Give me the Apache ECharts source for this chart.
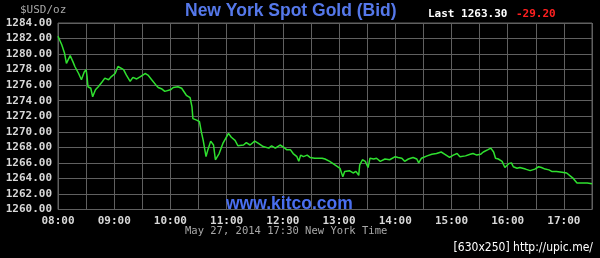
<!DOCTYPE html>
<html>
<head>
<meta charset="utf-8">
<script src="https://cdn.jsdelivr.net/npm/echarts@6/dist/echarts.min.js"></script>
<style>
html,body{margin:0;padding:0;background:#000;}
#chart{width:600px;height:258px;}
</style>
</head>
<body>
<div id="chart"></div>
<script>
// Times (HH:MM, New York) and bid prices
const times = ["08:00","08:04","08:07","08:09","08:13","08:16","08:18","08:22","08:25","08:28","08:30","08:31","08:32","08:35","08:37","08:40","08:43","08:47","08:50","08:54","08:57",
"09:01","09:04","09:06","09:10","09:13","09:17","09:20","09:24","09:28","09:33","09:36","09:40","09:44","09:47","09:51","09:54",
"10:00","10:03","10:08","10:12","10:17","10:21","10:23","10:24","10:28","10:31","10:33","10:35","10:38","10:40","10:43","10:46","10:48","10:52","10:56",
"11:02","11:05","11:09","11:12","11:18","11:21","11:25","11:30","11:34","11:39","11:45","11:48","11:52","11:57",
"12:01","12:04","12:08","12:11","12:15","12:17","12:19","12:22","12:26","12:29","12:34","12:42","12:45","12:50","12:56",
"13:01","13:04","13:06","13:11","13:15","13:18","13:21","13:22","13:25","13:28","13:31","13:33","13:37","13:40","13:44","13:49","13:54",
"14:00","14:03","14:07","14:10","14:14","14:19","14:23","14:25","14:28","14:34","14:39","14:44","14:49","14:53","14:58",
"15:02","15:06","15:09","15:15","15:20","15:23","15:27","15:31","15:34","15:39","15:42","15:45","15:47","15:50","15:54","15:57",
"16:01","16:04","16:06","16:10","16:13","16:19","16:24","16:29","16:33","16:36","16:40","16:44","16:47","16:52","16:58",
"17:03","17:07","17:10","17:14","17:19","17:25","17:30"];
const prices = [1282.3,1281.2,1280.1,1278.8,1279.8,1279.0,1278.4,1277.5,1276.7,1277.7,1278.0,1277.1,1275.8,1275.6,1274.5,1275.4,1275.8,1276.4,1276.9,1276.7,1277.1,
1277.5,1278.4,1278.2,1278.0,1277.3,1276.5,1277.0,1276.8,1277.1,1277.5,1277.3,1276.7,1276.1,1275.7,1275.5,1275.2,
1275.4,1275.7,1275.8,1275.6,1274.7,1274.4,1273.2,1271.7,1271.5,1271.3,1270.0,1268.9,1266.8,1267.7,1268.8,1268.3,1266.4,1267.2,1268.5,
1269.8,1269.3,1268.9,1268.2,1268.3,1268.6,1268.3,1268.8,1268.5,1268.1,1267.9,1268.2,1267.9,1268.3,
1268.0,1267.7,1267.7,1267.2,1266.8,1266.2,1267.0,1266.8,1267.0,1266.7,1266.6,1266.6,1266.5,1266.2,1265.7,
1265.3,1264.2,1264.9,1265.0,1264.7,1264.9,1264.4,1265.7,1266.4,1266.2,1265.4,1266.6,1266.5,1266.6,1266.2,1266.5,1266.4,
1266.8,1266.7,1266.6,1266.2,1266.5,1266.7,1266.5,1266.0,1266.6,1266.9,1267.1,1267.2,1267.4,1267.1,1266.7,
1267.0,1267.2,1266.8,1266.9,1267.1,1267.2,1267.0,1267.1,1267.4,1267.7,1267.9,1267.4,1266.6,1266.5,1266.2,1265.4,
1265.9,1266.0,1265.5,1265.3,1265.4,1265.2,1265.0,1265.2,1265.5,1265.4,1265.2,1265.1,1264.9,1264.9,1264.8,
1264.7,1264.3,1264.0,1263.4,1263.4,1263.4,1263.3];
const yTicks = [1260,1262,1264,1266,1268,1270,1272,1274,1276,1278,1280,1282,1284];
const xHourLabels = ["08:00","09:00","10:00","11:00","12:00","13:00","14:00","15:00","16:00","17:00"];

function toMin(t){const p=t.split(':');return (+p[0]-8)*60+(+p[1]);}
function fmtMin(v){const h=8+Math.floor(v/60), m=v%60;return (h<10?'0':'')+h+':'+(m<10?'0':'')+m;}
const seriesData = times.map((t,i)=>[toMin(t),prices[i]]);

const chart = echarts.init(document.getElementById('chart'), null, {renderer:'canvas'});
const mono = "'DejaVu Sans Mono', monospace";
chart.setOption({
  backgroundColor:'#000',
  animation:false,
  grid:{left:58,right:8,top:23,bottom:48.5,show:false},
  xAxis:{
    type:'value', min:0, max:570, interval:30,
    axisLine:{show:false}, axisTick:{show:false},
    splitLine:{show:true,lineStyle:{color:'#606060',width:1}},
    axisLabel:{color:'#d8d8d8',fontFamily:mono,fontSize:11,fontWeight:'bold',margin:6,
      formatter:v=>{const s=fmtMin(v);return (v%60===0 && xHourLabels.indexOf(s)>=0)?s:'';}}
  },
  yAxis:{
    type:'value', min:yTicks[0], max:yTicks[yTicks.length-1], interval:2,
    axisLine:{show:false}, axisTick:{show:false},
    splitLine:{show:true,lineStyle:{color:'#606060',width:1}},
    axisLabel:{color:'#d8d8d8',fontFamily:mono,fontSize:11,fontWeight:'bold',margin:6,
      formatter:v=>v.toFixed(2)}
  },
  series:[{
    type:'line', data:seriesData, showSymbol:false, smooth:false,
    lineStyle:{color:'#2fe02f',width:1.5}
  }],
  graphic:[
    {type:'rect',shape:{x:58,y:23,width:534,height:186.5},style:{fill:'none',stroke:'#606060',lineWidth:1},silent:true,z:-1},
    {type:'text',left:20,top:5,style:{text:'$USD/oz',fill:'#a8a8a8',font:"11px 'DejaVu Sans Mono', monospace"}},
    {type:'text',left:185,top:2,style:{text:'New York Spot Gold (Bid)',fill:'#5578ea',font:"bold 17.5px 'Liberation Sans', Arial, sans-serif"}},
    {type:'text',left:428,top:9,style:{text:'Last 1263.30',fill:'#ffffff',font:"bold 11px 'DejaVu Sans Mono', monospace"}},
    {type:'text',left:516,top:9,style:{text:'-29.20',fill:'#ff2020',font:"bold 11px 'DejaVu Sans Mono', monospace"}},
    {type:'text',left:226,top:195,z:10,style:{text:'www.kitco.com',fill:'#4a6ff0',font:"bold 17.5px 'Liberation Sans', Arial, sans-serif"}},
    {type:'text',left:185,top:226,style:{text:'May 27, 2014 17:30 New York Time',fill:'#a8a8a8',font:"10.5px 'DejaVu Sans Mono', monospace"}},
    {type:'text',right:7,top:242,style:{text:'[630x250] http://upic.me/',fill:'#ffffff',font:"12px 'DejaVu Sans Condensed', 'Liberation Sans', sans-serif"}}
  ]
});
</script>
</body>
</html>
